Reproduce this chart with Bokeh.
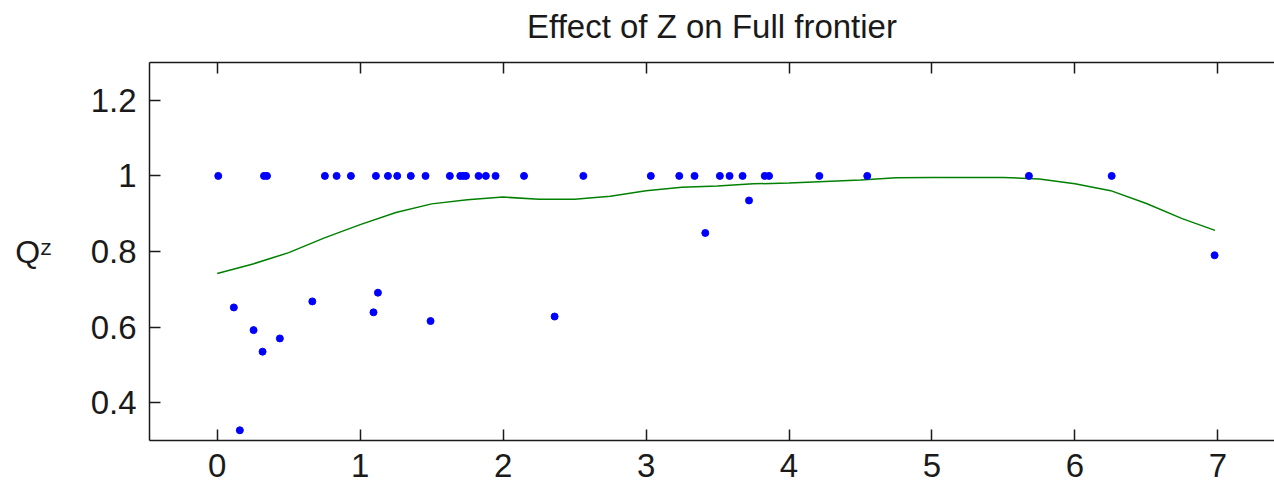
from bokeh.plotting import figure
from bokeh.models import Range1d, LinearAxis, FixedTicker
from bokeh.embed import file_html
from bokeh.resources import INLINE

FONT = "Liberation Sans"

# Observations with Q^z = 1
z_full = [0.007, 0.327, 0.348, 0.753, 0.835, 0.935, 1.110, 1.194, 1.259, 1.354,
          1.457, 1.627, 1.70, 1.72, 1.74, 1.828, 1.879, 1.947, 2.146, 2.561,
          3.033, 3.232, 3.339, 3.516, 3.584, 3.675, 3.83, 3.86, 4.212, 4.547,
          5.678, 6.257]
q_full = [1.0] * len(z_full)

# Observations with Q^z < 1
z_low = [0.116, 0.158, 0.254, 0.317, 0.438, 0.665, 1.093, 1.124, 1.492, 2.360,
         3.414, 3.720, 6.977]
q_low = [0.652, 0.327, 0.592, 0.535, 0.570, 0.668, 0.639, 0.691, 0.616, 0.628,
         0.849, 0.935, 0.790]

# Smoothed (nonparametric) curve
curve_z = [0.0, 0.25, 0.5, 0.75, 1.0, 1.25, 1.5, 1.75, 2.0, 2.25, 2.5, 2.75,
           3.0, 3.25, 3.5, 3.75, 4.0, 4.25, 4.5, 4.75, 5.0, 5.25, 5.5, 5.75,
           6.0, 6.25, 6.5, 6.75, 6.98]
curve_q = [0.742, 0.767, 0.797, 0.836, 0.871, 0.903, 0.926, 0.937, 0.944, 0.938,
           0.938, 0.946, 0.961, 0.970, 0.973, 0.979, 0.981, 0.985, 0.989, 0.995,
           0.996, 0.996, 0.996, 0.992, 0.979, 0.961, 0.927, 0.887, 0.856]

x_ticks = [0, 1, 2, 3, 4, 5, 6, 7]
y_ticks = [0.4, 0.6, 0.8, 1.0, 1.2]
title_text = "Effect of Z on Full frontier"
y_label = "Q\u1dbb"

z_pts = z_full + z_low
q_pts = q_full + q_low

p = figure(width=1274, height=486, output_backend="svg", toolbar_location=None,
           x_range=Range1d(-0.474, 7.396), y_range=Range1d(0.3, 1.3),
           x_axis_location=None, y_axis_location=None,
           min_border_left=149, min_border_right=0,
           min_border_top=62, min_border_bottom=46)
p.outline_line_color = None
p.background_fill_color = "white"
p.border_fill_color = "white"
for g in p.grid:
    g.visible = False

AX = "#1a1a1a"


def style(ax):
    ax.axis_line_color = AX
    ax.axis_line_width = 1.5
    ax.major_tick_line_color = AX
    ax.major_tick_line_width = 1.5
    ax.major_tick_in = 11
    ax.major_tick_out = 0
    ax.minor_tick_in = 0
    ax.minor_tick_out = 0
    ax.minor_tick_line_color = None
    ax.major_label_text_font = FONT
    ax.major_label_text_color = AX
    ax.major_label_text_font_size = "33px"


xb = LinearAxis(ticker=FixedTicker(ticks=x_ticks))
style(xb)
xb.major_label_standoff = 13
p.add_layout(xb, "below")

# top box edge with inward ticks; carries the chart title as its label
xt = LinearAxis(ticker=FixedTicker(ticks=x_ticks),
                major_label_overrides={t: "" for t in x_ticks})
style(xt)
xt.major_label_standoff = 0
xt.axis_label = title_text
xt.axis_label_text_font = FONT
xt.axis_label_text_font_size = "33px"
xt.axis_label_text_font_style = "normal"
xt.axis_label_text_color = AX
xt.axis_label_standoff = 18
p.add_layout(xt, "above")

yl = LinearAxis(ticker=FixedTicker(ticks=y_ticks), major_label_overrides={1: "1"})
style(yl)
yl.major_label_standoff = 13
yl.axis_label = y_label
yl.axis_label_orientation = "horizontal"
yl.axis_label_text_font = FONT
yl.axis_label_text_font_size = "32px"
yl.axis_label_text_font_style = "normal"
yl.axis_label_text_color = AX
yl.axis_label_standoff = 36
p.add_layout(yl, "left")

p.line(curve_z, curve_q, line_color="#008000", line_width=1.5)
p.scatter(z_pts, q_pts, marker="circle", size=7, fill_color="#0000ff",
          line_color="#0000ff")

open("out.html", "w").write(file_html(p, INLINE))
